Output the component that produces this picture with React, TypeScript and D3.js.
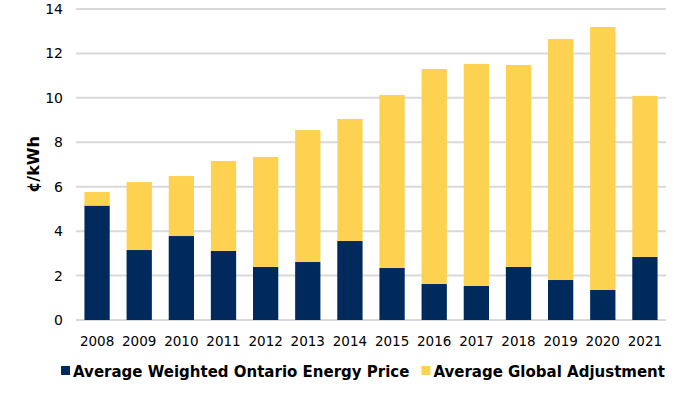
import { useEffect, useRef } from "react"
import { scaleBand, scaleLinear, stack, select } from "d3"

const years = ["2008", "2009", "2010", "2011", "2012", "2013", "2014", "2015", "2016", "2017", "2018", "2019", "2020", "2021"]
const energyPrice = [5.15, 3.15, 3.78, 3.11, 2.39, 2.61, 3.56, 2.34, 1.62, 1.53, 2.39, 1.8, 1.35, 2.84]
const globalAdjustment = [0.61, 3.06, 2.7, 4.05, 4.95, 5.94, 5.49, 7.79, 9.68, 10.0, 9.09, 10.85, 11.84, 7.25]
const yTicks = [0, 2, 4, 6, 8, 10, 12, 14]
const seriesNames = ["Average Weighted Ontario Energy Price", "Average Global Adjustment"]
const colors = ["#002A5C", "#FDD251"]

const W = 674
const H = 397
const margin = { top: 9, right: 8, bottom: 77, left: 76 }

export default function App() {
  const legendRef = useRef<SVGGElement>(null)

  const x = scaleBand<string>()
    .domain(years)
    .range([margin.left, W - margin.right])
    .paddingInner(0.4)
    .paddingOuter(0.2)

  const y = scaleLinear()
    .domain([0, 14])
    .range([H - margin.bottom, margin.top])

  const rows = years.map((yr, i) => ({ year: yr, a: energyPrice[i], b: globalAdjustment[i] }))
  const layers = stack<any>().keys(["a", "b"])(rows)

  // legend centred under the chart, laid out from measured text widths
  useEffect(() => {
    const g = legendRef.current
    if (!g) return
    const items = select(g).selectAll<SVGGElement, unknown>("g.item").nodes()
    const gap = 12
    const widths = items.map((n) => (n.querySelector("text") as SVGTextElement).getComputedTextLength() + 12)
    const total = widths.reduce((s, w) => s + w, 0) + gap * (items.length - 1)
    let cx = (margin.left + W - margin.right) / 2 - total / 2 - 8
    items.forEach((n, i) => {
      n.setAttribute("transform", `translate(${cx},0)`)
      cx += widths[i] + gap
    })
  }, [])

  return (
    <svg width={W} height={H} style={{ position: "absolute", left: 0, top: 0, background: "#fff" }} fontFamily="Verdana, 'DejaVu Sans', sans-serif">
      {/* grid */}
      {yTicks.map((t) => (
        <g key={t}>
          <line x1={margin.left} x2={W - margin.right} y1={y(t)} y2={y(t)} stroke="#D9D9D9" strokeWidth={2} />
          <text x={63} y={y(t)} dy="0.36em" textAnchor="end" fontSize={14} fill="#000">
            {t}
          </text>
        </g>
      ))}

      {/* bars */}
      {layers.map((layer, li) => (
        <g key={li} fill={colors[li]}>
          {layer.map((d, i) => (
            <rect
              key={i}
              x={x(years[i])}
              width={x.bandwidth()}
              y={y(d[1])}
              height={y(d[0]) - y(d[1])}
            />
          ))}
        </g>
      ))}

      {/* x labels */}
      {years.map((yr) => (
        <text key={yr} x={(x(yr) ?? 0) + x.bandwidth() / 2} y={346} textAnchor="middle" fontSize={13.5} fill="#000">
          {yr}
        </text>
      ))}

      {/* y title */}
      <text transform={`translate(39,${(y(0) + y(14)) / 2}) rotate(-90)`} textAnchor="middle" fontSize={16} fontWeight="bold" fill="#000">
        ¢/kWh
      </text>

      {/* legend */}
      <g ref={legendRef}>
        {seriesNames.map((name, i) => (
          <g className="item" key={name}>
            <rect x={0} y={366} width={9} height={9} fill={colors[i]} />
            <text x={12} y={377} fontSize={15} fontWeight="bold" fill="#000">
              {name}
            </text>
          </g>
        ))}
      </g>
    </svg>
  )
}
